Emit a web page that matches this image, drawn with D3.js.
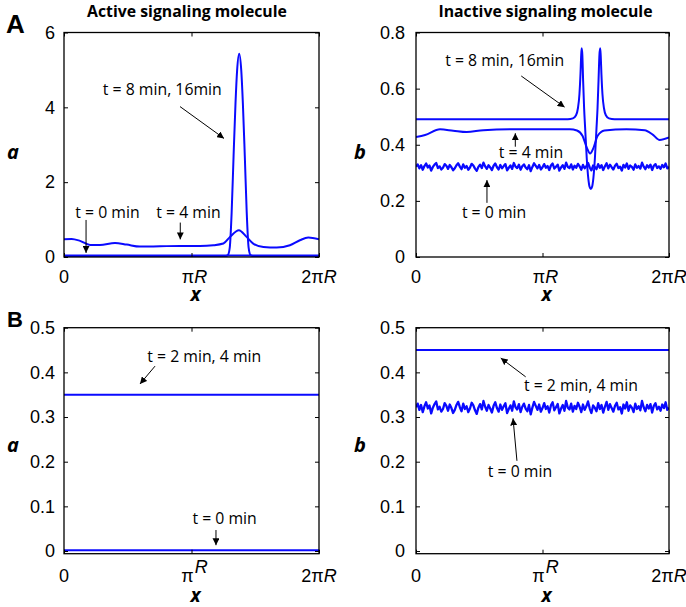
<!DOCTYPE html>
<html>
<head>
<meta charset="utf-8">
<script src="https://cdn.jsdelivr.net/npm/d3@7/dist/d3.min.js"></script>
<style>
  body { margin: 0; background: #fff; }
  svg { display: block; }
</style>
</head>
<body>
<svg id="fig" width="686" height="607"></svg>
<script>
// Positions along the ring are expressed in units of πR (0 … 2 spans the whole ring).
const xTicks = [0, 1, 2];

const ticksA_a = [0, 2, 4, 6];
const ticksA_b = [0, 0.2, 0.4, 0.6, 0.8];
const ticksB = [0, 0.1, 0.2, 0.3, 0.4, 0.5];

// Panel A, active molecule a
const aA_t0 = [[0, 0.04], [2, 0.04]];
const aA_t4 = [
  [0, 0.475], [0.06, 0.484], [0.126, 0.43], [0.204, 0.323], [0.282, 0.323],
  [0.4, 0.377], [0.492, 0.332], [0.596, 0.278], [0.752, 0.287], [0.91, 0.296],
  [1.066, 0.296], [1.172, 0.314], [1.25, 0.359], [1.302, 0.538], [1.372, 0.717],
  [1.432, 0.538], [1.484, 0.359], [1.564, 0.269], [1.668, 0.251], [1.772, 0.314],
  [1.85, 0.448], [1.916, 0.52], [2, 0.475]
];
const aA_t8 = [
  [0, 0.03], [1.27, 0.03], [1.285, 0.05], [1.3, 0.25], [1.315, 1.2], [1.33, 2.7],
  [1.345, 4.1], [1.358, 5.0], [1.374, 5.43], [1.39, 5.0], [1.403, 4.1], [1.418, 2.7],
  [1.433, 1.2], [1.448, 0.25], [1.463, 0.05], [1.48, 0.03], [2, 0.03]
];

// Inactive molecule b at t = 0: the same noisy initial state is shown in A and B
const bInitial = [
  0.322,0.330,0.316,0.327,0.311,0.324,0.333,0.319,0.326,0.308,
  0.321,0.329,0.335,0.317,0.323,0.312,0.318,0.331,0.325,0.314,
  0.328,0.320,0.309,0.316,0.327,0.334,0.322,0.313,0.330,0.318,
  0.324,0.311,0.319,0.332,0.326,0.315,0.307,0.321,0.329,0.317,
  0.336,0.323,0.314,0.327,0.319,0.310,0.325,0.333,0.320,0.312,
  0.328,0.316,0.324,0.331,0.309,0.318,0.326,0.314,0.335,0.322,
  0.317,0.329,0.311,0.323,0.330,0.319,0.313,0.327,0.306,0.321,
  0.334,0.325,0.316,0.328,0.312,0.320,0.331,0.318,0.324,0.310,
  0.326,0.333,0.315,0.322,0.329,0.308,0.319,0.327,0.314,0.336,
  0.321,0.317,0.330,0.312,0.325,0.318,0.332,0.323,0.311,0.328,
  0.316,0.324,0.335,0.319,0.309,0.326,0.321,0.313,0.331,0.318,
  0.327,0.310,0.323,0.334,0.316,0.329,0.320,0.312,0.325,0.332,
  0.317,0.322,0.308,0.328,0.319,0.333,0.314,0.326,0.321,0.311,
  0.330,0.318,0.324,0.315,0.336,0.322,0.313,0.327,0.319,0.329,
  0.310,0.325,0.331,0.317,0.323,0.314,0.328,0.320,0.333,0.316,
  0.321
];

// Panel A, inactive molecule b
const bA_t4 = [
  [0, 0.428], [0.072, 0.435], [0.19, 0.455], [0.294, 0.45], [0.4, 0.445],
  [0.532, 0.452], [0.742, 0.455], [1.006, 0.455], [1.216, 0.455], [1.272, 0.451],
  [1.316, 0.432], [1.35, 0.39], [1.376, 0.369], [1.404, 0.39], [1.436, 0.432],
  [1.49, 0.451], [1.664, 0.455], [1.808, 0.452], [1.874, 0.435], [1.926, 0.417],
  [2, 0.426]
];
const bA_t8 = [
  [0, 0.491], [1.2, 0.491], [1.24, 0.494], [1.265, 0.505], [1.28, 0.53], [1.292, 0.58],
  [1.3, 0.65], [1.306, 0.72], [1.31, 0.744], [1.315, 0.72], [1.321, 0.63], [1.329, 0.53],
  [1.337, 0.46], [1.35, 0.35], [1.362, 0.28], [1.372, 0.25], [1.382, 0.242], [1.392, 0.25],
  [1.402, 0.28], [1.414, 0.35], [1.427, 0.46], [1.435, 0.53], [1.443, 0.63], [1.45, 0.72],
  [1.456, 0.744], [1.46, 0.72], [1.466, 0.65], [1.474, 0.58], [1.486, 0.53], [1.501, 0.505],
  [1.525, 0.494], [1.57, 0.491], [2, 0.491]
];

// Panel B (no pattern forms)
const aB_t0 = [[0, 0.002], [2, 0.002]];
const aB_t2 = [[0, 0.35], [2, 0.35]];
const bB_t2 = [[0, 0.45], [2, 0.45]];

const BLUE = "#0a0aff";
const svg = d3.select("#fig");

const TICK_FONT = "'Liberation Sans', Arial, Helvetica, sans-serif";
const NOTE_FONT = "'Open Sans', 'Noto Sans', sans-serif";
const LABEL_FONT = "'Open Sans', 'Noto Sans', sans-serif";

svg.append("defs").append("marker")
  .attr("id", "head")
  .attr("viewBox", "0 0 10 10")
  .attr("refX", 10).attr("refY", 5)
  .attr("markerWidth", 7).attr("markerHeight", 7)
  .attr("markerUnits", "userSpaceOnUse")
  .attr("orient", "auto")
  .append("path").attr("d", "M0,0 L10,5 L0,10 Z").attr("fill", "#000");

function indexed(values) {
  return values.map((v, i) => [2 * i / (values.length - 1), v]);
}

function drawPanel(cfg) {
  const x = d3.scaleLinear().domain([0, 2]).range([cfg.left, cfg.right]);
  const y = d3.scaleLinear().domain(cfg.yDomain).range([cfg.bottom, cfg.top]);
  const g = svg.append("g");

  const clipId = "clip" + cfg.id;
  g.append("clipPath").attr("id", clipId).append("rect")
    .attr("x", cfg.left).attr("y", cfg.top - 1)
    .attr("width", cfg.right - cfg.left).attr("height", cfg.bottom - cfg.top + 1);

  const line = d3.line().x(d => x(d[0])).y(d => y(d[1]));
  const plot = g.append("g").attr("clip-path", `url(#${clipId})`);
  cfg.series.forEach(s => {
    plot.append("path")
      .datum(s.data)
      .attr("d", line.curve(s.smooth ? d3.curveMonotoneX : d3.curveLinear)(s.data))
      .attr("fill", "none")
      .attr("stroke", BLUE)
      .attr("stroke-width", s.width || 2)
      .attr("stroke-linejoin", "round");
  });

  // inward ticks on all four sides
  const yl = g.append("g").attr("transform", `translate(${cfg.left},0)`)
    .call(d3.axisLeft(y).tickValues(cfg.yTicks).tickSize(-4).tickSizeOuter(0)
      .tickPadding(cfg.yPad).tickFormat(v => v === 0 ? "0" : String(v)));
  const yr = g.append("g").attr("transform", `translate(${cfg.right},0)`)
    .call(d3.axisRight(y).tickValues(cfg.yTicks).tickSize(-4).tickSizeOuter(0).tickFormat(""));
  const xb = g.append("g").attr("transform", `translate(0,${cfg.bottom})`)
    .call(d3.axisBottom(x).tickValues(xTicks).tickSize(-4).tickSizeOuter(0).tickFormat(""));
  const xt = g.append("g").attr("transform", `translate(0,${cfg.top})`)
    .call(d3.axisTop(x).tickValues(xTicks).tickSize(-4).tickSizeOuter(0).tickFormat(""));
  [yl, yr, xb, xt].forEach(a => {
    a.select(".domain").remove();
    a.selectAll("line").attr("stroke", "#000").attr("stroke-width", 1);
  });
  yl.selectAll("text").attr("font-family", TICK_FONT).attr("font-size", 18).attr("fill", "#000");

  g.append("rect")
    .attr("x", cfg.left).attr("y", cfg.top)
    .attr("width", cfg.right - cfg.left).attr("height", cfg.bottom - cfg.top)
    .attr("fill", "none").attr("stroke", "#000").attr("stroke-width", 1.3);

  // x tick labels
  const lab = g.append("g").attr("font-family", TICK_FONT).attr("font-size", 18).attr("fill", "#000");
  lab.append("text").attr("x", x(0)).attr("y", cfg.xLabelY).attr("text-anchor", "middle").text("0");
  const t = lab.append("text").attr("x", x(1) + 3).attr("y", cfg.xLabelY).attr("text-anchor", "middle");
  t.append("tspan").text("π");
  if (cfg.supR) {
    t.append("tspan").attr("dy", -9).attr("dx", 1).attr("font-style", "italic").text("R");
  } else {
    t.append("tspan").attr("font-style", "italic").text("R");
  }
  const t2 = lab.append("text").attr("x", x(2)).attr("y", cfg.xLabelY).attr("text-anchor", "middle");
  t2.append("tspan").text("2π");
  t2.append("tspan").attr("font-style", "italic").text("R");

  // axis titles
  g.append("text").attr("x", (cfg.left + cfg.right) / 2 + 4).attr("y", cfg.xTitleY)
    .attr("text-anchor", "middle").attr("font-family", LABEL_FONT)
    .attr("font-weight", 700).attr("font-style", "italic").attr("font-size", 19).text("x");
  g.append("text").attr("x", cfg.yTitleX).attr("y", cfg.yTitleY)
    .attr("text-anchor", "middle").attr("font-family", LABEL_FONT)
    .attr("font-weight", 700).attr("font-style", "italic").attr("font-size", 20).text(cfg.yTitle);

  // annotations
  cfg.notes.forEach(n => {
    g.append("text").attr("x", x(n.at[0])).attr("y", y(n.at[1]))
      .attr("text-anchor", "middle").attr("font-family", NOTE_FONT)
      .attr("font-size", 15.8).attr("fill", "#000").text(n.text);
    g.append("line")
      .attr("x1", x(n.from[0])).attr("y1", y(n.from[1]))
      .attr("x2", x(n.to[0])).attr("y2", y(n.to[1]))
      .attr("stroke", "#000").attr("stroke-width", 1)
      .attr("marker-end", "url(#head)");
  });

  if (cfg.title) {
    svg.append("text").attr("x", cfg.title.x).attr("y", 17)
      .attr("text-anchor", "middle").attr("font-family", LABEL_FONT)
      .attr("font-weight", 700).attr("font-size", 15.8).text(cfg.title.text);
  }
}

const topRow = { top: 32.5, bottom: 257, xLabelY: 283, xTitleY: 301, yTitleY: 159 };
const botRow = { top: 327.7, bottom: 553.7, xLabelY: 582, xTitleY: 602, yTitleY: 452 };
const leftCol = { left: 64, right: 319, yPad: 9, yTitleX: 13 };
const rightCol = { left: 416, right: 669, yPad: 11, yTitleX: 360 };

drawPanel({
  id: "Aa", ...topRow, ...leftCol, yDomain: [0, 6], yTicks: ticksA_a, yTitle: "a",
  title: { x: 187, text: "Active signaling molecule" },
  series: [
    { data: aA_t0, width: 2.2 },
    { data: aA_t8, smooth: true },
    { data: aA_t4, smooth: true }
  ],
  notes: [
    { text: "t = 8 min, 16min", at: [0.771, 4.33], from: [0.91, 4.02], to: [1.255, 3.17] },
    { text: "t = 0 min", at: [0.341, 1.04], from: [0.173, 0.99], to: [0.173, 0.11] },
    { text: "t = 4 min", at: [0.976, 1.04], from: [0.912, 0.92], to: [0.912, 0.47] }
  ]
});

drawPanel({
  id: "Ab", ...topRow, ...rightCol, yDomain: [0, 0.8], yTicks: ticksA_b, yTitle: "b",
  title: { x: 545.5, text: "Inactive signaling molecule" },
  series: [
    { data: indexed(bInitial), width: 2.3 },
    { data: bA_t4, smooth: true },
    { data: bA_t8, smooth: true }
  ],
  notes: [
    { text: "t = 8 min, 16min", at: [0.701, 0.681], from: [0.832, 0.645], to: [1.175, 0.534] },
    { text: "t = 4 min", at: [0.909, 0.3525], from: [0.785, 0.393], to: [0.785, 0.441] },
    { text: "t = 0 min", at: [0.617, 0.138], from: [0.561, 0.193], to: [0.561, 0.274] }
  ]
});

drawPanel({
  id: "Ba", ...botRow, ...leftCol, yDomain: [-0.006, 0.5], yTicks: ticksB, yTitle: "a", supR: true,
  series: [
    { data: aB_t0 },
    { data: aB_t2 }
  ],
  notes: [
    { text: "t = 2 min, 4 min", at: [1.1, 0.423], from: [0.714, 0.414], to: [0.596, 0.374] },
    { text: "t = 0 min", at: [1.26, 0.06], from: [1.192, 0.047], to: [1.192, 0.013] }
  ]
});

drawPanel({
  id: "Bb", ...botRow, ...rightCol, yDomain: [-0.006, 0.5], yTicks: ticksB, yTitle: "b", supR: true,
  series: [
    { data: indexed(bInitial), width: 2.3 },
    { data: bB_t2 }
  ],
  notes: [
    { text: "t = 2 min, 4 min", at: [1.304, 0.358], from: [0.867, 0.39], to: [0.67, 0.432] },
    { text: "t = 0 min", at: [0.822, 0.166], from: [0.798, 0.202], to: [0.767, 0.297] }
  ]
});

// panel letters
svg.append("text").attr("x", 6).attr("y", 33).attr("font-family", TICK_FONT)
  .attr("font-weight", 700).attr("font-size", 26).text("A");
svg.append("text").attr("x", 7).attr("y", 327).attr("font-family", TICK_FONT)
  .attr("font-weight", 700).attr("font-size", 22).text("B");
</script>
</body>
</html>
